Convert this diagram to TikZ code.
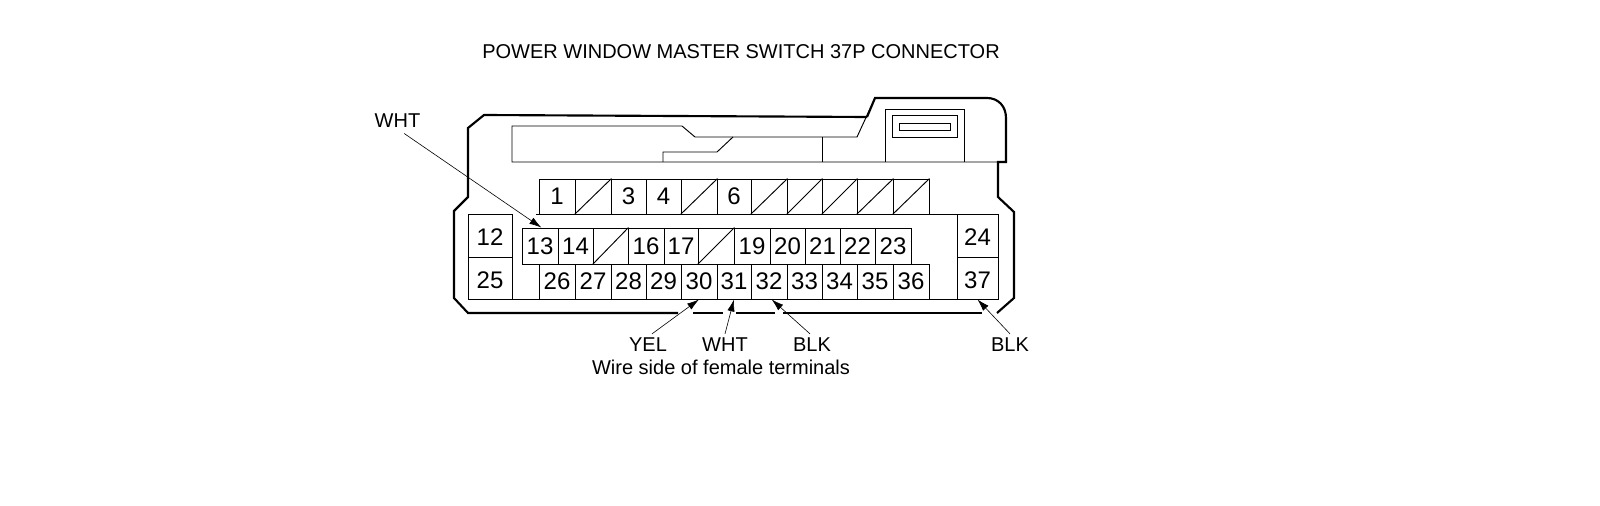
\documentclass[tikz,border=0pt]{standalone}
\usepackage{fontspec}
\setmainfont{Liberation Sans}
\usetikzlibrary{arrows.meta}
\tikzset{
    cell/.style={draw, line width=0.7pt, inner sep=0pt, font=\fontsize{18}{18}\selectfont},
    digit/.style={inner sep=0pt, font=\fontsize{18}{18}\selectfont},
    caption/.style={inner sep=0pt, font=\fontsize{15}{15}\selectfont},
    outline/.style={line width=1.6pt, line join=miter},
    plate/.style={line width=0.7pt},
    wire/.style={->, line width=0.45pt}
}
\begin{document}
\begin{tikzpicture}[x=0.75pt, y=-0.75pt]
    \tikzset{>={Latex[length=9pt,width=5.5pt]}}
    \useasboundingbox (0,0) rectangle (1600,506);
    \node[caption] (title) at (741,52) {POWER WINDOW MASTER SWITCH 37P CONNECTOR};
    % housing
    \draw[outline] (867,117) -- (484,115) -- (468,128) -- (468,197) -- (454,211) -- (454,298) -- (468,313) -- (678,313);
    \draw[outline] (693,313) -- (723,313);
    \draw[outline] (736,313) -- (775,313);
    \draw[outline] (783,313) -- (982,313);
    \draw[outline] (997,313) -- (1014,298) -- (1014,212) -- (998,197) -- (998,162) -- (1006,162) -- (1006,118)
        .. controls (1006,106) and (998,98) .. (987,98) -- (875,98) -- (867,117);
    % upper plate
    \draw[plate] (875,98) -- (857,137) -- (695,137) -- (682,126) -- (512,126) -- (512,162) -- (998,162);
    \draw[plate] (663,162) -- (663,152) -- (717,152) -- (733,137);
    \draw[plate] (822,137) -- (822,162);
    \draw[plate] (885,162) -- (885,109) -- (964,109) -- (964,162);
    \draw[plate] (892,115) rectangle (957,137);
    \draw[plate] (899,123) rectangle (950,130);
    % lines of the lower cavity
    \draw[plate] (536,214) -- (539,214);
    \draw[plate] (929,214) -- (957,214);
    \draw[plate] (512,299) -- (957,299);
    % row 1
    \foreach \xa/\xb/\num in {539/575/1, 575/611/2, 611/646/3, 646/681/4, 681/717/5, 717/751/6,
        751/787/7, 787/822/8, 822/857/9, 857/893/10, 893/929/11} {
        \pgfmathsetmacro{\wid}{(\xb-\xa)*0.75}
        \node[cell, minimum width=\wid pt, minimum height=26.25pt] (c\num) at ({(\xa+\xb)/2},196.5) {};
    }
    \foreach \num/\txt in {1/1, 3/3, 4/4, 6/6}
        \node[digit] (t\num) at (c\num) {\txt};
    \foreach \num in {2,5,7,8,9,10,11}
        \draw[plate] (c\num.south west) -- (c\num.north east);
    % row 2
    \foreach \xa/\xb/\num in {522/558/13, 558/593/14, 593/628/15, 628/664/16, 664/698/17, 698/734/18,
        734/770/19, 770/805/20, 805/840/21, 840/875/22, 875/911/23} {
        \pgfmathsetmacro{\wid}{(\xb-\xa)*0.75}
        \node[cell, minimum width=\wid pt, minimum height=27pt] (c\num) at ({(\xa+\xb)/2},246) {};
    }
    \foreach \num in {13,14,16,17,19,20,21,22,23}
        \node[digit] (t\num) at (c\num) {\num};
    \foreach \num in {15,18}
        \draw[plate] (c\num.south west) -- (c\num.north east);
    % row 3
    \foreach \xa/\xb/\num in {539/575/26, 575/611/27, 611/646/28, 646/681/29, 681/717/30, 717/751/31,
        751/787/32, 787/822/33, 822/857/34, 857/893/35, 893/929/36} {
        \pgfmathsetmacro{\wid}{(\xb-\xa)*0.75}
        \node[cell, minimum width=\wid pt, minimum height=26.25pt] (c\num) at ({(\xa+\xb)/2},281.5) {};
        \node[digit] (t\num) at (c\num) {\num};
    }
    % side cells
    \foreach \xa/\xb/\ya/\yb/\num in {468/512/214/257/12, 468/512/257/299/25, 957/998/214/257/24, 957/998/257/299/37} {
        \pgfmathsetmacro{\wid}{(\xb-\xa)*0.75}
        \pgfmathsetmacro{\hei}{(\yb-\ya)*0.75}
        \node[cell, minimum width=\wid pt, minimum height=\hei pt] (c\num) at ({(\xa+\xb)/2},{(\ya+\yb)/2}) {};
        \node[digit] (t\num) at ({(\xa+\xb)/2},{(\ya+\yb)/2+2}) {\num};
    }
    % wire colours
    \node[caption] (lblWhtA) at (397.5,121) {WHT};
    \node[caption] (lblYel) at (648,345) {YEL};
    \node[caption] (lblWhtB) at (725,345) {WHT};
    \node[caption] (lblBlkA) at (812,345) {BLK};
    \node[caption] (lblBlkB) at (1010,345) {BLK};
    \node[caption] (note) at (721,367) {Wire side of female terminals};
    \draw[wire] ([xshift=5pt,yshift=-4pt]lblWhtA.south) -- ([xshift=1pt]c13.north);
    \draw[wire] ([xshift=3pt,yshift=3pt]lblYel.north) -- (c30.south);
    \draw[wire] ([yshift=3pt]lblWhtB.north) -- (c31.south);
    \draw[wire] ([xshift=-1.5pt,yshift=3pt]lblBlkA.north) -- ([xshift=2pt]c32.south);
    \draw[wire] ([yshift=3pt]lblBlkB.north) -- (c37.south);
\end{tikzpicture}
\end{document}
